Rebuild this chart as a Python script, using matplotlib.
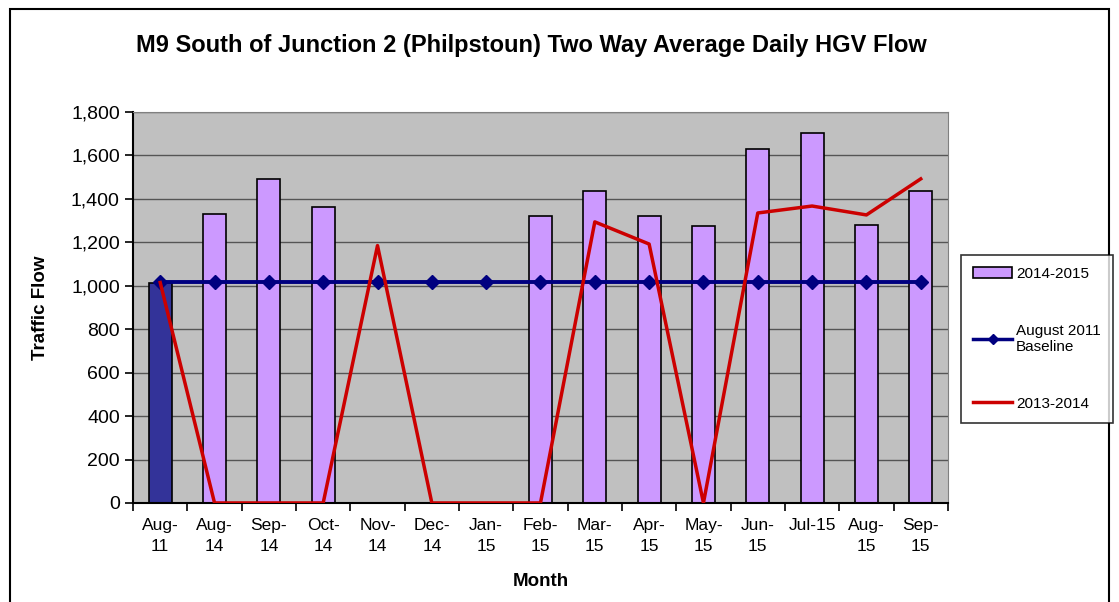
import numpy as np
import matplotlib.pyplot as plt
from matplotlib.patches import Rectangle, Patch
from matplotlib.lines import Line2D

plt.rcParams['font.family'] = ['Liberation Sans', 'DejaVu Sans']

#data
months = ['Aug-\n11', 'Aug-\n14', 'Sep-\n14', 'Oct-\n14', 'Nov-\n14', 'Dec-\n14', 'Jan-\n15',
          'Feb-\n15', 'Mar-\n15', 'Apr-\n15', 'May-\n15', 'Jun-\n15', 'Jul-15', 'Aug-\n15', 'Sep-\n15']
flow_1415 = [1013, 1330, 1492, 1363, 0, 0, 0, 1321, 1436, 1321, 1275, 1630, 1703, 1280, 1436]
baseline = [1015] * 15
flow_1314 = [1015, 0, 0, 0, 1185, 0, 0, 0, 1294, 1192, 0, 1335, 1367, 1326, 1492]

x = np.arange(len(months))

fig = plt.figure(figsize=(11.19, 6.02), dpi=100)
ax = fig.add_axes([0.1189, 0.1645, 0.7282, 0.6495])
ax.set_facecolor('#C0C0C0')

#bars
bar_colors = ['#333399'] + ['#CC99FF'] * (len(months) - 1)
ax.bar(x, flow_1415, width=0.42, color=bar_colors, edgecolor='black',
       linewidth=1.2, zorder=2)

ax.plot(x, baseline, color='#000080', linewidth=2.8, marker='D', markersize=7, zorder=3)
ax.plot(x, flow_1314, color='#CC0000', linewidth=2.5, zorder=4)

#axes
ax.set_xlim(-0.5, len(months) - 0.5)
ax.set_ylim(0, 1800)
ax.set_yticks(np.arange(0, 1801, 200))
ax.set_yticklabels([f'{v:,}' for v in range(0, 1801, 200)], fontsize=14)
ax.yaxis.grid(True, color='#555555', linewidth=1)
ax.set_axisbelow(True)
ax.set_xticks(x)
ax.set_xticklabels(months, fontsize=12.5, linespacing=1.45)
ax.tick_params(axis='x', length=0, pad=11)
ax.set_xticks(np.arange(-0.5, len(months), 1), minor=True)
ax.tick_params(axis='x', which='minor', length=6, direction='out', width=1.2)
ax.tick_params(axis='y', length=6, width=1.2)
for s in ['top', 'right']:
    ax.spines[s].set_color('#808080')
for s in ['left', 'bottom']:
    ax.spines[s].set_linewidth(1.5)

ax.set_xlabel('Month', fontsize=13.5, fontweight='bold', labelpad=14)
ax.set_ylabel('Traffic Flow', fontsize=13.5, fontweight='bold', labelpad=16)
fig.text(0.475, 0.925, 'M9 South of Junction 2 (Philpstoun) Two Way Average Daily HGV Flow',
         ha='center', va='center', fontsize=17, fontweight='bold')

#legend
handles = [Patch(facecolor='#CC99FF', edgecolor='black', linewidth=1.2),
           Line2D([], [], color='#000080', linewidth=2.5, marker='D', markersize=5),
           Line2D([], [], color='#CC0000', linewidth=2.5)]
labels = ['2014-2015', 'August 2011\nBaseline', '2013-2014']
leg = fig.legend(handles, labels, loc='upper left', bbox_to_anchor=(0.859, 0.577), fontsize=11,
                 frameon=True, fancybox=False, edgecolor='black', labelspacing=2.8,
                 handlelength=2.5, handletextpad=0.3, borderpad=0.8, borderaxespad=0)
leg.get_frame().set_linewidth(1.2)

#outer border
fig.patches.append(Rectangle((0.009, -0.01), 0.982, 0.995, transform=fig.transFigure,
                             fill=False, edgecolor='black', linewidth=1.5))

plt.savefig('out.png', dpi=100)
